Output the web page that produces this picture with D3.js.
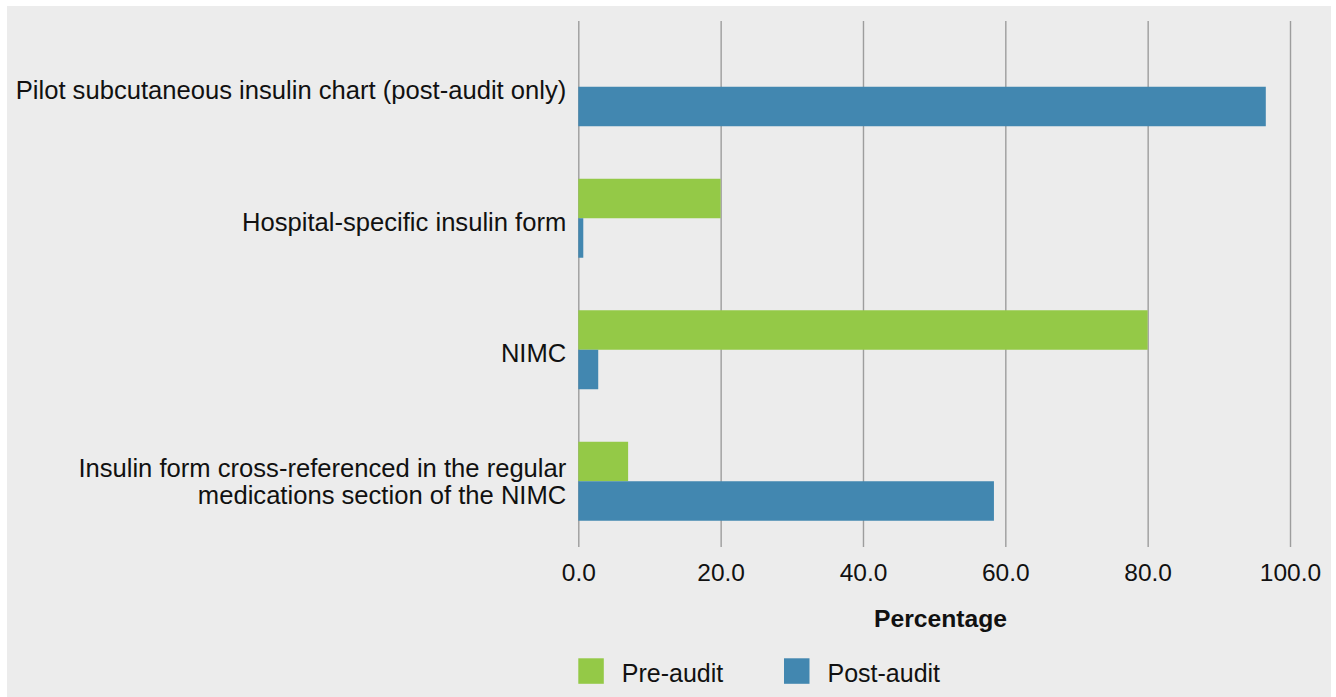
<!DOCTYPE html>
<html>
<head>
<meta charset="utf-8">
<script src="https://cdn.jsdelivr.net/npm/d3@7"></script>
<style>
  html, body { margin: 0; padding: 0; background: #ffffff; }
  svg { display: block; font-family: "Liberation Sans", Arial, Helvetica, sans-serif; }
</style>
</head>
<body>
<svg id="chart" width="1336" height="697"></svg>
<script>
// Chart data
const categories = [
  ["Pilot subcutaneous insulin chart (post-audit only)"],
  ["Hospital-specific insulin form"],
  ["NIMC"],
  ["Insulin form cross-referenced in the regular", "medications section of the NIMC"]
];
const seriesNames = ["Pre-audit", "Post-audit"];
const preAudit = [null, 20.0, 80.0, 7.0];
const postAudit = [96.6, 0.7, 2.8, 58.4];
const xTicks = [0, 20, 40, 60, 80, 100];

const colors = { "Pre-audit": "#94c947", "Post-audit": "#4287b0" };

const svg = d3.select("#chart");

// Panel background
svg.append("rect")
  .attr("x", 7).attr("y", 6)
  .attr("width", 1324).attr("height", 691)
  .attr("fill", "#ececec");

const plot = { left: 578.3, right: 1290, top: 21, bottom: 547 };

const x = d3.scaleLinear().domain([0, 100]).range([plot.left, plot.right]);
const y = d3.scaleBand()
  .domain(d3.range(categories.length))
  .range([plot.top, plot.bottom])
  .paddingInner(0)
  .paddingOuter(0);
const inner = d3.scaleBand()
  .domain(seriesNames)
  .range([0, y.bandwidth()])
  .paddingInner(0)
  .paddingOuter(0.665);

// Vertical grid lines + tick labels
const xAxis = d3.axisBottom(x)
  .tickValues(xTicks)
  .tickSize(plot.bottom - plot.top)
  .tickFormat(d3.format(".1f"));

const gx = svg.append("g")
  .attr("transform", `translate(0,${plot.top})`)
  .call(xAxis);
gx.select(".domain").remove();
gx.selectAll(".tick line")
  .attr("stroke", "#9d9d9d")
  .attr("stroke-width", 1.4);
gx.selectAll(".tick text")
  .attr("y", plot.bottom - plot.top + 34)
  .attr("dy", 0)
  .attr("fill", "#111")
  .style("font-size", "24.5px");

// Bars
const rows = categories.map((c, i) => ({ i, values: [
  { key: "Pre-audit", v: preAudit[i] },
  { key: "Post-audit", v: postAudit[i] }
].filter(d => d.v != null) }));

const grp = svg.append("g").selectAll("g")
  .data(rows).join("g")
  .attr("transform", d => `translate(0,${y(d.i)})`);

grp.selectAll("rect")
  .data(d => d.values).join("rect")
  .attr("x", x(0))
  .attr("y", d => inner(d.key))
  .attr("width", d => x(d.v) - x(0))
  .attr("height", inner.bandwidth())
  .attr("fill", d => colors[d.key]);

// Category labels
const lab = svg.append("g").selectAll("text")
  .data(categories).join("text")
  .attr("text-anchor", "end")
  .attr("fill", "#111")
  .style("font-size", "25.6px");
lab.each(function(lines, i) {
  const t = d3.select(this);
  const cy = y(i) + y.bandwidth() / 2;
  const lineH = 27;
  const first = lines.length > 1 ? cy - 4 : cy + 12.3;
  lines.forEach((ln, k) => {
    t.append("tspan")
      .attr("x", plot.left - 12)
      .attr("y", first + k * lineH)
      .text(ln);
  });
});

// Axis title
svg.append("text")
  .attr("x", 940.5)
  .attr("y", 627)
  .attr("text-anchor", "middle")
  .attr("fill", "#111")
  .style("font-size", "24.7px")
  .style("font-weight", "bold")
  .text("Percentage");

// Legend
const legend = svg.append("g");
const legendX = [578.3, 784];
seriesNames.forEach((s, k) => {
  legend.append("rect")
    .attr("x", legendX[k]).attr("y", 658.3)
    .attr("width", 25.5).attr("height", 25.5)
    .attr("fill", colors[s]);
  legend.append("text")
    .attr("x", legendX[k] + 43.5)
    .attr("y", 682)
    .attr("fill", "#111")
    .style("font-size", "25px")
    .text(s);
});
</script>
</body>
</html>
